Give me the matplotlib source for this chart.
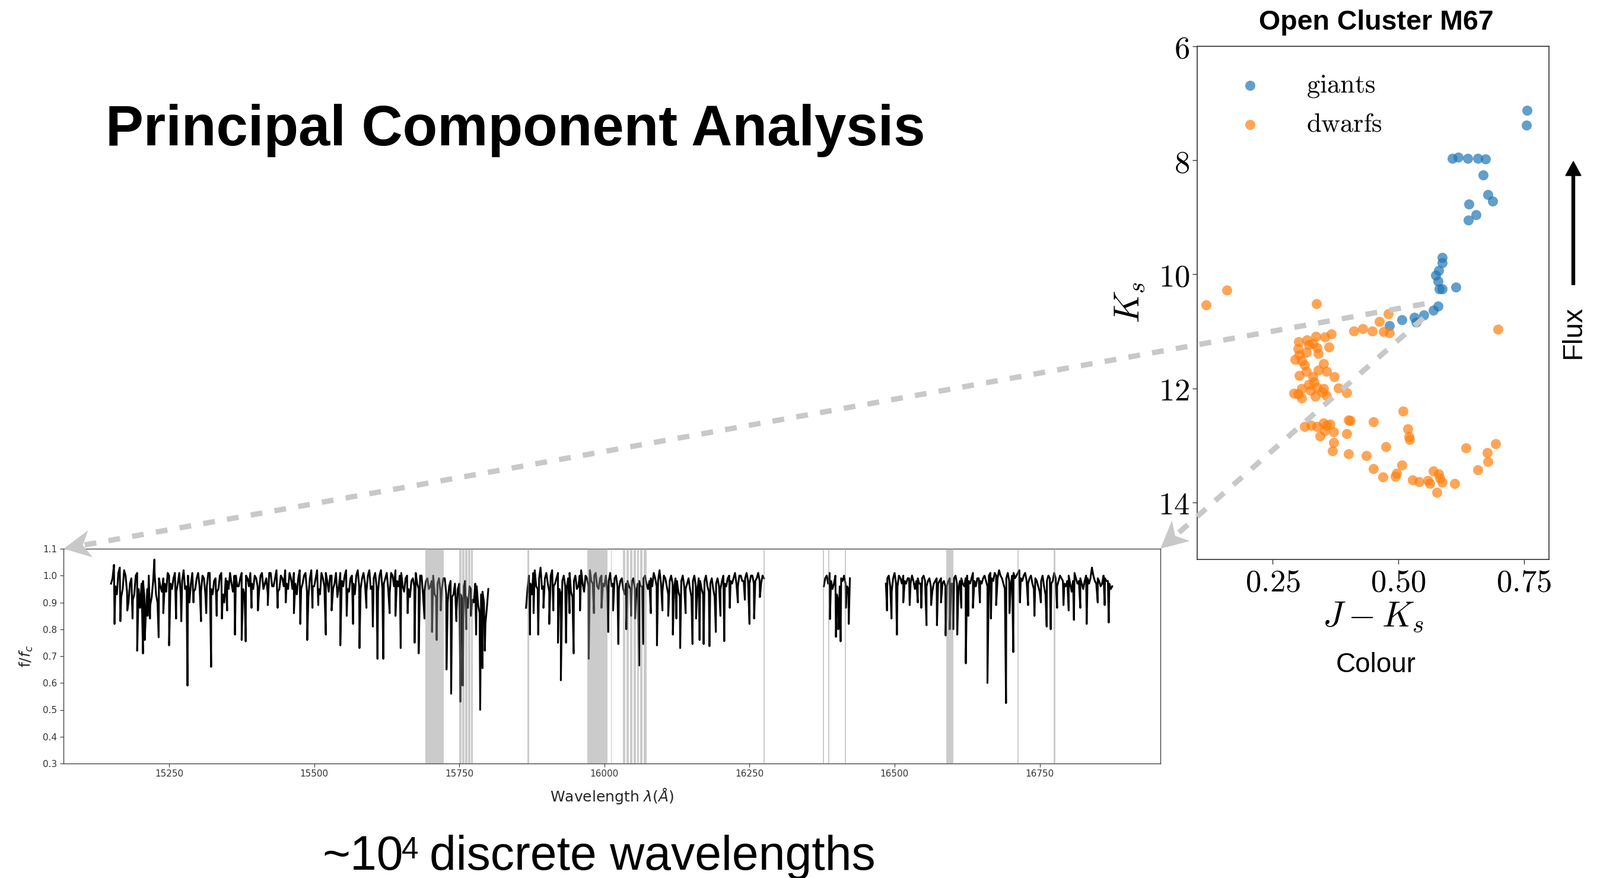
import numpy as np
import matplotlib
matplotlib.use('Agg')
import matplotlib.pyplot as plt
from matplotlib.lines import Line2D
from matplotlib.patches import Polygon, FancyArrow
from matplotlib.transforms import IdentityTransform
from matplotlib.ticker import FuncFormatter, MultipleLocator

plt.rcParams['mathtext.fontset'] = 'cm'
SANS = ['Liberation Sans', 'DejaVu Sans']

# ---- open cluster M67: colour J-Ks vs magnitude Ks ----
giants_jk = [0.756, 0.755, 0.608, 0.619, 0.638, 0.658, 0.674, 0.669, 0.678, 0.688,
             0.641, 0.655, 0.640, 0.588, 0.588, 0.581, 0.575, 0.579, 0.582, 0.587,
             0.615, 0.579, 0.570, 0.551, 0.532, 0.535, 0.507, 0.482]
giants_ks = [7.13, 7.39, 7.97, 7.95, 7.97, 7.97, 7.98, 8.26, 8.61, 8.72,
             8.77, 8.96, 9.05, 9.71, 9.80, 9.94, 10.02, 10.12, 10.26, 10.26,
             10.23, 10.56, 10.63, 10.72, 10.76, 10.84, 10.80, 10.90]

dwarfs_jk = [0.118, 0.159, 0.337, 0.480, 0.462, 0.699, 0.412, 0.429, 0.448, 0.471,
             0.483, 0.367, 0.354, 0.336, 0.318, 0.302, 0.330, 0.338, 0.362, 0.322,
             0.301, 0.317, 0.341, 0.303, 0.295, 0.308, 0.314, 0.352, 0.303, 0.317,
             0.341, 0.357, 0.373, 0.330, 0.333, 0.322, 0.308, 0.293, 0.301, 0.308,
             0.335, 0.349, 0.357, 0.381, 0.397, 0.338, 0.351, 0.325, 0.314, 0.327,
             0.338, 0.352, 0.357, 0.365, 0.354, 0.344, 0.371, 0.371, 0.369, 0.397,
             0.401, 0.405, 0.401, 0.437, 0.450, 0.475, 0.510, 0.519, 0.522, 0.523,
             0.451, 0.469, 0.494, 0.497, 0.507, 0.529, 0.542, 0.559, 0.563, 0.570,
             0.580, 0.583, 0.587, 0.577, 0.612, 0.635, 0.658, 0.677, 0.679, 0.694]
dwarfs_ks = [10.54, 10.28, 10.52, 10.70, 10.83, 10.97, 11.00, 10.96, 11.00, 11.01,
             11.03, 11.05, 11.10, 11.09, 11.15, 11.18, 11.22, 11.29, 11.28, 11.24,
             11.31, 11.37, 11.39, 11.41, 11.50, 11.52, 11.59, 11.57, 11.78, 11.70,
             11.68, 11.70, 11.80, 11.80, 11.89, 11.93, 12.00, 12.09, 12.10, 12.17,
             12.14, 12.07, 12.13, 11.99, 12.08, 11.98, 12.00, 12.04, 12.67, 12.65,
             12.67, 12.61, 12.65, 12.63, 12.74, 12.84, 12.76, 12.95, 13.10, 12.80,
             12.56, 12.57, 13.15, 13.18, 12.59, 13.02, 12.40, 12.71, 12.85, 12.90,
             13.41, 13.55, 13.54, 13.49, 13.35, 13.61, 13.64, 13.62, 13.67, 13.45,
             13.50, 13.58, 13.65, 13.82, 13.67, 13.04, 13.43, 13.13, 13.28, 12.97]

# ---- spectrum: four detector chunks, sampled every 2.5 A ----
seg_start = [15150, 15865, 16378, 16485]
seg_step = 5          # first set on the grid, second set half a step later
flux_a = [0.97, 1.04, 0.93, 1.03, 0.95, 1.00, 0.90, 0.99, 0.93, 1.01,
          0.88, 0.98, 0.86, 1.00, 0.92, 1.01, 0.90, 0.96, 0.99, 0.94,
          1.00, 0.95, 1.01, 0.97, 0.93, 1.02, 0.96, 0.90, 1.01, 0.95,
          1.01, 0.94, 0.99, 0.96, 1.01, 0.93, 0.99, 0.95, 1.01, 0.90,
          0.98, 1.01, 0.94, 1.00, 0.96, 1.01, 0.93, 0.99, 1.01, 0.95,
          0.99, 0.94, 1.01, 0.97, 0.93, 1.01, 0.96, 1.02, 0.95, 0.99,
          1.02, 0.95, 0.99, 1.01, 0.93, 1.02, 0.97, 1.01, 0.92, 1.02,
          0.96, 1.02, 0.93, 0.99, 1.01, 0.94, 1.00, 0.97, 0.92, 1.01,
          0.96, 1.02, 0.94, 1.00, 0.93, 1.02, 0.95, 1.01, 0.94, 1.02,
          0.96, 1.01, 0.94, 1.02, 0.97, 1.01, 0.93, 1.00, 1.02, 0.96,
          1.01, 0.94, 1.00, 0.92, 0.99, 1.01, 0.95, 1.00, 0.94, 0.99,
          0.96, 1.00, 0.92, 0.99, 0.95, 0.99, 0.90, 0.98, 0.93, 0.86,
          0.97, 0.91, 0.98, 0.88, 0.95, 0.90, 0.96, 0.86, 0.94, 0.82,
          0.95]
flux_a_half = [0.99, 0.96, 1.01, 0.92, 1.02, 0.94, 0.97, 0.91, 1.00, 0.95,
               0.97, 0.92, 0.95, 0.89, 0.98, 0.93, 0.99, 0.94, 0.97, 1.01,
               0.97, 0.99, 0.94, 1.01, 0.98, 0.95, 1.00, 0.97, 0.94, 0.99,
               0.96, 1.00, 0.93, 1.01, 0.95, 0.98, 0.94, 1.00, 0.93, 0.99,
               0.95, 0.97, 1.00, 0.96, 0.99, 0.95, 1.00, 0.96, 0.97, 1.00,
               0.96, 1.00, 0.95, 0.99, 1.01, 0.96, 0.99, 0.94, 1.00, 0.96,
               0.97, 1.01, 0.95, 0.97, 0.99, 0.95, 1.00, 0.94, 0.99, 0.96,
               0.99, 0.95, 1.01, 0.96, 0.98, 1.00, 0.95, 1.01, 0.96, 0.98,
               1.00, 0.95, 0.99, 0.97, 1.00, 0.96, 0.99, 0.97, 1.00, 0.95,
               0.99, 0.96, 1.00, 0.95, 0.99, 0.95, 1.01, 0.96, 0.98, 1.00,
               0.96, 0.99, 0.95, 0.98, 0.96, 0.97, 1.00, 0.93, 0.98, 0.95,
               0.98, 0.93, 0.97, 0.94, 0.99, 0.93, 0.96, 0.92, 0.97, 0.95,
               0.93, 0.96, 0.92, 0.96, 0.91, 0.97, 0.89, 0.93, 0.90, 0.88]
flux_b = [0.88, 1.00, 0.93, 1.02, 0.95, 1.03, 0.96, 1.01, 0.94, 1.02,
          0.97, 1.01, 0.93, 1.00, 0.95, 1.01, 0.92, 1.00, 0.96, 1.02,
          0.94, 0.99, 1.02, 0.97, 1.01, 0.95, 1.00, 0.96, 0.94, 1.01,
          0.97, 1.00, 0.95, 0.99, 0.93, 0.98, 0.95, 0.99, 0.94, 0.98,
          0.96, 1.00, 0.95, 0.99, 1.01, 0.96, 1.02, 0.94, 0.99, 0.93,
          1.00, 0.95, 0.98, 0.92, 1.00, 0.95, 0.99, 0.92, 1.00, 0.94,
          0.98, 0.93, 1.00, 0.94, 0.99, 0.92, 0.99, 0.95, 1.00, 0.96,
          1.00, 0.97, 1.01, 0.96, 1.00, 0.98, 1.01, 0.97, 1.00, 0.98,
          1.01, 0.97, 0.99]
flux_b_half = [0.95, 0.97, 1.01, 0.96, 0.99, 0.95, 0.99, 0.97, 1.00, 0.96,
               0.99, 0.95, 0.98, 0.96, 0.99, 0.94, 0.98, 0.95, 1.00, 0.97,
               1.00, 0.96, 0.98, 1.00, 0.96, 0.99, 0.97, 1.00, 0.98, 0.96,
               0.99, 0.96, 0.98, 0.95, 0.97, 0.96, 0.98, 0.95, 0.97, 0.96,
               0.99, 0.97, 0.98, 0.96, 0.99, 0.98, 0.97, 1.00, 0.96, 0.98,
               0.97, 0.99, 0.94, 0.98, 0.96, 0.97, 0.95, 0.98, 0.96, 0.99,
               0.95, 0.98, 0.96, 0.97, 0.95, 0.97, 0.96, 0.98, 0.97, 0.99,
               0.98, 0.99, 0.97, 1.00, 0.98, 0.99, 0.98, 1.00, 0.97, 0.99,
               0.98, 1.00]
flux_c = [0.96, 1.00, 1.01, 0.95, 1.00, 0.90, 0.99, 1.00, 0.96, 0.99]
flux_c_half = [0.99, 0.97, 0.98, 0.97, 0.93, 0.96, 0.98, 0.97, 0.95]
flux_d = [0.97, 1.00, 0.94, 1.01, 0.96, 0.99, 1.00, 0.97, 0.99, 1.00,
          0.95, 0.99, 0.97, 1.00, 0.96, 0.99, 0.94, 0.98, 0.97, 0.99,
          0.98, 0.96, 0.99, 0.97, 1.00, 0.95, 0.99, 0.96, 1.00, 0.97,
          1.01, 0.96, 0.99, 0.97, 1.00, 0.96, 1.01, 0.98, 1.00, 1.02,
          0.99, 0.95, 1.01, 0.96, 1.01, 1.00, 1.02, 0.98, 1.01, 0.97,
          1.00, 0.95, 0.98, 0.94, 1.00, 0.93, 1.00, 0.97, 1.01, 0.96,
          1.00, 0.98, 0.96, 1.00, 0.94, 1.01, 0.97, 0.99, 0.95, 1.00,
          0.97, 1.03, 0.98, 0.99, 0.96, 1.00, 0.98, 0.97, 0.96]
flux_d_half = [0.99, 0.96, 0.99, 0.97, 1.00, 0.97, 0.98, 0.99, 0.97, 0.98,
               0.98, 0.97, 0.99, 0.98, 0.98, 0.96, 0.97, 0.99, 0.98, 0.97,
               0.96, 0.98, 0.97, 0.99, 0.97, 0.98, 0.97, 0.99, 0.98, 0.99,
               0.98, 0.99, 0.98, 0.99, 0.98, 1.00, 0.99, 1.01, 0.99, 1.00,
               0.97, 0.99, 0.98, 1.00, 0.99, 1.01, 0.99, 1.00, 0.98, 0.99,
               0.97, 0.99, 0.96, 0.98, 0.96, 0.98, 0.99, 0.98, 0.99, 0.98,
               0.99, 0.97, 0.98, 0.97, 0.98, 0.99, 0.98, 0.97, 0.98, 0.99,
               0.99, 1.00, 0.97, 0.98, 0.97, 0.99, 0.98, 0.95]
seg_flux = [flux_a, flux_b, flux_c, flux_d]
seg_flux_half = [flux_a_half, flux_b_half, flux_c_half, flux_d_half]

# absorption lines (centre wavelength, minimum flux)
dip_wl = np.array([
    15156, 15166, 15178, 15187, 15195, 15205, 15208, 15213, 15217, 15224.6,
    15232, 15240, 15250, 15262, 15271, 15281.7, 15292, 15305, 15314, 15322.4,
    15332, 15341, 15350, 15363.5, 15375, 15382, 15392, 15403, 15420, 15437,
    15451, 15465, 15476, 15488, 15497, 15507, 15520, 15530, 15545, 15556,
    15567, 15578, 15590, 15601, 15609, 15619, 15630, 15640, 15649, 15661,
    15673, 15680, 15690, 15703, 15711, 15718, 15728, 15736, 15745, 15752,
    15756, 15762, 15770, 15779, 15786, 15790, 15794,
    15871.7, 15878, 15886, 15895, 15905, 15912, 15920, 15925, 15934, 15940,
    15947, 15958, 15973, 15982, 15995, 16006.6, 16015, 16024, 16038, 16046,
    16053, 16060, 16067, 16080, 16090.6, 16100, 16110, 16118, 16124, 16130.6,
    16140, 16151.8, 16158, 16164, 16171, 16181, 16192, 16200, 16206.5, 16216,
    16230, 16242, 16250, 16258, 16268,
    16388.6, 16399, 16403, 16407, 16416, 16421,
    16487, 16494.7, 16504, 16515, 16526, 16540, 16546, 16555, 16563, 16573,
    16580, 16588, 16595, 16601, 16608, 16615, 16622.7, 16627, 16635, 16647,
    16660, 16666, 16675, 16692, 16698, 16704.5, 16716, 16730, 16741, 16752,
    16762, 16769, 16780, 16791, 16800, 16809, 16820, 16831, 16850, 16862,
    16869])
dip_flux = np.array([
    0.82, 0.83, 0.87, 0.84, 0.72, 0.71, 0.76, 0.85, 0.84, 1.06,
    0.77, 0.86, 0.74, 0.84, 0.83, 0.59, 0.90, 0.83, 0.86, 0.66,
    0.85, 0.84, 0.87, 0.78, 0.76, 0.755, 0.88, 0.87, 0.89, 0.88,
    0.90, 0.86, 0.82, 0.76, 0.88, 0.89, 0.78, 0.87, 0.74, 0.85,
    0.82, 0.73, 0.88, 0.81, 0.69, 0.69, 0.86, 0.85, 0.73, 0.86,
    0.75, 0.71, 0.84, 0.79, 0.76, 0.87, 0.65, 0.56, 0.83, 0.53,
    0.59, 0.80, 0.85, 0.78, 0.50, 0.655, 0.72,
    0.78, 0.86, 0.78, 0.88, 0.82, 0.87, 0.75, 0.61, 0.75, 0.86,
    0.71, 0.87, 0.69, 0.86, 0.88, 0.79, 0.87, 0.745, 0.80, 0.85,
    0.84, 0.665, 0.745, 0.86, 0.74, 0.87, 0.85, 0.78, 0.84, 0.73,
    0.86, 0.745, 0.84, 0.76, 0.745, 0.737, 0.79, 0.85, 0.756, 0.88,
    0.90, 0.91, 0.82, 0.84, 0.92,
    0.838, 0.772, 0.80, 0.755, 0.88, 0.82,
    0.87, 0.84, 0.78, 0.90, 0.89, 0.90, 0.88, 0.815, 0.89, 0.815,
    0.90, 0.777, 0.80, 0.80, 0.78, 0.88, 0.673, 0.85, 0.88, 0.90,
    0.60, 0.84, 0.89, 0.525, 0.86, 0.715, 0.90, 0.89, 0.85, 0.90,
    0.81, 0.80, 0.88, 0.89, 0.87, 0.835, 0.88, 0.82, 0.90, 0.89,
    0.825])

# masked wavelength windows (grey shading)
mask_regions = [(15692, 15723), (15750, 15754), (15755, 15759), (15760, 15764),
                (15765, 15769), (15770, 15773), (15867.5, 15870), (15971, 16005),
                (16011, 16013), (16032, 16036), (16038, 16042), (16044, 16048),
                (16050, 16054), (16056, 16060), (16062, 16066), (16068, 16073),
                (16274, 16276.5), (16376, 16378.5), (16385.5, 16388), (16414, 16416.5),
                (16589, 16601), (16711.5, 16714), (16774.5, 16777)]

W, H = 2697, 1480
fig = plt.figure(figsize=(W / 100, H / 100), dpi=100)


def px_axes(left, top, right, bottom):
    return fig.add_axes([left / W, 1 - bottom / H, (right - left) / W, (bottom - top) / H])


def px(x, y):
    # slide pixel (from top-left) -> figure fraction
    return x / W, 1 - y / H


# ---------------- spectrum panel ----------------
axs = px_axes(107, 925, 1956, 1287)
for start, fl, fh in zip(seg_start, seg_flux, seg_flux_half):
    wl = start + seg_step * np.arange(len(fl))
    wh = start + seg_step / 2 + seg_step * np.arange(len(fh))
    sel = (dip_wl > wl[0]) & (dip_wl < wl[-1])
    x = np.concatenate([wl, wh, dip_wl[sel]])
    y = np.concatenate([fl, fh, dip_flux[sel]])
    order = np.argsort(x)
    axs.plot(x[order], y[order], color='black', lw=2.2)
for a, b in mask_regions:
    axs.axvspan(a, b, color='0.57', alpha=0.47, lw=0, zorder=3)
axs.set_xlim(15068, 16958)
axs.set_ylim(0.3, 1.1)
axs.xaxis.set_major_locator(MultipleLocator(250))
axs.yaxis.set_major_locator(MultipleLocator(0.1))
axs.xaxis.set_major_formatter(FuncFormatter(lambda v, p: f'{v:.0f}'))
axs.yaxis.set_major_formatter(FuncFormatter(lambda v, p: f'{v:.1f}'))
axs.tick_params(labelsize=11, colors='#333333', length=4)
for sp in axs.spines.values():
    sp.set_color('#444444')
    sp.set_linewidth(1.0)
axs.set_xlabel('Wavelength $\\lambda (\\AA)$', fontsize=18, color='#262626',
               math_fontfamily='dejavusans', labelpad=10)
axs.set_ylabel('f/$f_c$', fontsize=18, color='#262626',
               math_fontfamily='dejavusans', labelpad=10)

# ---------------- colour-magnitude panel ----------------
ax = px_axes(2018, 77.5, 2611, 943)
ax.scatter(giants_jk, giants_ks, s=150, color='#1f77b4', alpha=0.7, lw=0,
           label='$\\mathrm{giants}$')
ax.scatter(dwarfs_jk, dwarfs_ks, s=150, color='#ff7f0e', alpha=0.7, lw=0,
           label='$\\mathrm{dwarfs}$')
ax.set_xlim(0.10, 0.80)
ax.set_ylim(15, 6)
ax.set_xticks([0.25, 0.50, 0.75])
ax.set_yticks([6, 8, 10, 12, 14])
ax.xaxis.set_major_formatter(FuncFormatter(lambda v, p: f'${v:.2f}$'))
ax.yaxis.set_major_formatter(FuncFormatter(lambda v, p: f'${v:.0f}$'))
ax.tick_params(labelsize=38, length=5.5, width=1, color='#333333')
for sp in ax.spines.values():
    sp.set_color('#333333')
    sp.set_linewidth(1.2)
ax.set_xlabel('$J - K_s$', fontsize=43, labelpad=2)
ax.set_ylabel('$K_s$', fontsize=43, labelpad=14)
ax.legend(loc='upper left', frameon=False, fontsize=32, handletextpad=1.15,
          labelspacing=0.45, borderaxespad=0.6)

# ---------------- slide text ----------------
fig.text(*px(178, 245), 'Principal Component Analysis', fontsize=69,
         fontweight='bold', family=SANS, va='baseline', ha='left')
fig.text(*px(2320, 50), 'Open Cluster M67', fontsize=33.5, fontweight='bold',
         family=SANS, va='baseline', ha='center')
fig.text(*px(2319, 1133), 'Colour', fontsize=33, family=SANS,
         va='baseline', ha='center')
fig.text(*px(2652, 560), 'Flux', fontsize=34, family=SANS, rotation=90,
         va='center', ha='center')

fig.text(*px(543, 1466), '~10', fontsize=58, family=SANS, va='baseline', ha='left')
fig.text(*px(677, 1447), '4', fontsize=37, family=SANS, va='baseline', ha='left')
fig.text(*px(724, 1466), 'discrete wavelengths', fontsize=58, family=SANS,
         va='baseline', ha='left')

# flux arrow
fig.add_artist(FancyArrow(2652, H - 480, 0, 208, width=5, head_width=26,
                          head_length=24, length_includes_head=True,
                          color='black', transform=IdentityTransform()))

# ---------------- grey dashed zoom arrows ----------------
GREY = '#c8c8c8'


def dashed_arrow(p0, p1):
    p0 = np.asarray(p0, float)
    p1 = np.asarray(p1, float)
    u = (p1 - p0) / np.hypot(*(p1 - p0))
    n = np.array([-u[1], u[0]])
    L, Wd = 46, 23
    notch = p1 - 0.72 * L * u
    fig.add_artist(Line2D([p0[0], notch[0]], [p0[1], notch[1]], color=GREY,
                          lw=6.5, dashes=(2.2, 2.3), solid_capstyle='butt',
                          dash_capstyle='butt', transform=IdentityTransform()))
    head = [p1, p1 - L * u + Wd * n, notch, p1 - L * u - Wd * n]
    fig.add_artist(Polygon(head, closed=True, color=GREY, lw=0,
                           transform=IdentityTransform()))


start1 = ax.transData.transform((0.5525, 10.52))
start2 = ax.transData.transform((0.550, 10.77))
dashed_arrow(start1, axs.transAxes.transform((0, 1)))
dashed_arrow(start2, axs.transAxes.transform((1, 1)))

fig.savefig('out.png', dpi=100)
